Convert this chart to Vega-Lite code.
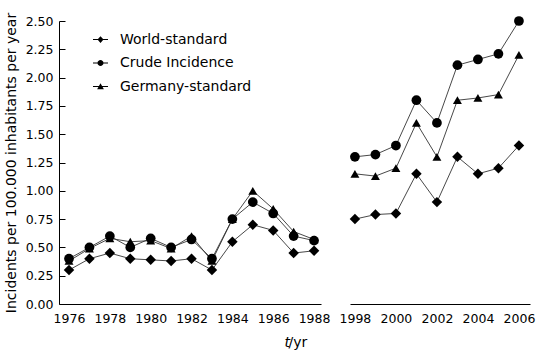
{
  "$schema": "https://vega.github.io/schema/vega-lite/v6.json",
  "padding": {"left": 4, "top": 12, "right": 4, "bottom": 4},
  "bounds": "flush",
  "spacing": 29,
  "config": {
    "view": {"stroke": null},
    "font": "DejaVu Sans",
    "axis": {"domainColor": "black", "domainWidth": 1, "labelColor": "black", "titleColor": "black", "grid": false, "labelFont": "DejaVu Sans", "titleFont": "DejaVu Sans", "titleFontWeight": "normal"}
  },
  "data": {"values": [
    {"year": 1976, "series": "World-standard", "value": 0.30, "period": "early"},
    {"year": 1977, "series": "World-standard", "value": 0.40, "period": "early"},
    {"year": 1978, "series": "World-standard", "value": 0.45, "period": "early"},
    {"year": 1979, "series": "World-standard", "value": 0.40, "period": "early"},
    {"year": 1980, "series": "World-standard", "value": 0.39, "period": "early"},
    {"year": 1981, "series": "World-standard", "value": 0.38, "period": "early"},
    {"year": 1982, "series": "World-standard", "value": 0.40, "period": "early"},
    {"year": 1983, "series": "World-standard", "value": 0.30, "period": "early"},
    {"year": 1984, "series": "World-standard", "value": 0.55, "period": "early"},
    {"year": 1985, "series": "World-standard", "value": 0.70, "period": "early"},
    {"year": 1986, "series": "World-standard", "value": 0.65, "period": "early"},
    {"year": 1987, "series": "World-standard", "value": 0.45, "period": "early"},
    {"year": 1988, "series": "World-standard", "value": 0.47, "period": "early"},
    {"year": 1976, "series": "Crude Incidence", "value": 0.40, "period": "early"},
    {"year": 1977, "series": "Crude Incidence", "value": 0.50, "period": "early"},
    {"year": 1978, "series": "Crude Incidence", "value": 0.60, "period": "early"},
    {"year": 1979, "series": "Crude Incidence", "value": 0.50, "period": "early"},
    {"year": 1980, "series": "Crude Incidence", "value": 0.58, "period": "early"},
    {"year": 1981, "series": "Crude Incidence", "value": 0.50, "period": "early"},
    {"year": 1982, "series": "Crude Incidence", "value": 0.57, "period": "early"},
    {"year": 1983, "series": "Crude Incidence", "value": 0.40, "period": "early"},
    {"year": 1984, "series": "Crude Incidence", "value": 0.75, "period": "early"},
    {"year": 1985, "series": "Crude Incidence", "value": 0.90, "period": "early"},
    {"year": 1986, "series": "Crude Incidence", "value": 0.80, "period": "early"},
    {"year": 1987, "series": "Crude Incidence", "value": 0.60, "period": "early"},
    {"year": 1988, "series": "Crude Incidence", "value": 0.56, "period": "early"},
    {"year": 1976, "series": "Germany-standard", "value": 0.38, "period": "early"},
    {"year": 1977, "series": "Germany-standard", "value": 0.49, "period": "early"},
    {"year": 1978, "series": "Germany-standard", "value": 0.58, "period": "early"},
    {"year": 1979, "series": "Germany-standard", "value": 0.55, "period": "early"},
    {"year": 1980, "series": "Germany-standard", "value": 0.56, "period": "early"},
    {"year": 1981, "series": "Germany-standard", "value": 0.49, "period": "early"},
    {"year": 1982, "series": "Germany-standard", "value": 0.60, "period": "early"},
    {"year": 1983, "series": "Germany-standard", "value": 0.38, "period": "early"},
    {"year": 1984, "series": "Germany-standard", "value": 0.75, "period": "early"},
    {"year": 1985, "series": "Germany-standard", "value": 1.00, "period": "early"},
    {"year": 1986, "series": "Germany-standard", "value": 0.84, "period": "early"},
    {"year": 1987, "series": "Germany-standard", "value": 0.64, "period": "early"},
    {"year": 1988, "series": "Germany-standard", "value": 0.57, "period": "early"},
    {"year": 1998, "series": "World-standard", "value": 0.75, "period": "late"},
    {"year": 1999, "series": "World-standard", "value": 0.79, "period": "late"},
    {"year": 2000, "series": "World-standard", "value": 0.80, "period": "late"},
    {"year": 2001, "series": "World-standard", "value": 1.15, "period": "late"},
    {"year": 2002, "series": "World-standard", "value": 0.90, "period": "late"},
    {"year": 2003, "series": "World-standard", "value": 1.30, "period": "late"},
    {"year": 2004, "series": "World-standard", "value": 1.15, "period": "late"},
    {"year": 2005, "series": "World-standard", "value": 1.20, "period": "late"},
    {"year": 2006, "series": "World-standard", "value": 1.40, "period": "late"},
    {"year": 1998, "series": "Crude Incidence", "value": 1.30, "period": "late"},
    {"year": 1999, "series": "Crude Incidence", "value": 1.32, "period": "late"},
    {"year": 2000, "series": "Crude Incidence", "value": 1.40, "period": "late"},
    {"year": 2001, "series": "Crude Incidence", "value": 1.80, "period": "late"},
    {"year": 2002, "series": "Crude Incidence", "value": 1.60, "period": "late"},
    {"year": 2003, "series": "Crude Incidence", "value": 2.11, "period": "late"},
    {"year": 2004, "series": "Crude Incidence", "value": 2.16, "period": "late"},
    {"year": 2005, "series": "Crude Incidence", "value": 2.21, "period": "late"},
    {"year": 2006, "series": "Crude Incidence", "value": 2.50, "period": "late"},
    {"year": 1998, "series": "Germany-standard", "value": 1.15, "period": "late"},
    {"year": 1999, "series": "Germany-standard", "value": 1.13, "period": "late"},
    {"year": 2000, "series": "Germany-standard", "value": 1.20, "period": "late"},
    {"year": 2001, "series": "Germany-standard", "value": 1.60, "period": "late"},
    {"year": 2002, "series": "Germany-standard", "value": 1.30, "period": "late"},
    {"year": 2003, "series": "Germany-standard", "value": 1.80, "period": "late"},
    {"year": 2004, "series": "Germany-standard", "value": 1.82, "period": "late"},
    {"year": 2005, "series": "Germany-standard", "value": 1.85, "period": "late"},
    {"year": 2006, "series": "Germany-standard", "value": 2.20, "period": "late"}
  ]},
  "resolve": {"legend": {"shape": "independent"}, "scale": {"shape": "independent"}},
  "hconcat": [
    {
      "width": 262,
      "height": 283,
      "transform": [{"filter": "datum.period === 'early'"}],
      "resolve": {"scale": {"shape": "independent"}, "legend": {"shape": "independent"}},
      "encoding": {
        "x": {"field": "year", "type": "quantitative",
          "scale": {"domain": [1975.51, 1988.34], "nice": false, "zero": false},
          "axis": {"values": [1976, 1978, 1980, 1982, 1984, 1986, 1988], "format": "d", "ticks": false, "labelPadding": 8, "labelFontSize": 12.5, "labelFlush": false,
            "title": "t", "titleFontStyle": "italic", "titleFontSize": 14, "titleX": 225, "titleY": 38, "titleAlign": "left", "titleBaseline": "middle"}},
        "y": {"field": "value", "type": "quantitative",
          "scale": {"domain": [0, 2.5], "nice": false},
          "axis": {"values": [0, 0.25, 0.5, 0.75, 1, 1.25, 1.5, 1.75, 2, 2.25, 2.5], "format": ".2f", "tickSize": -6, "tickColor": "black", "tickWidth": 1, "labelPadding": 12, "labelFontSize": 12.5, "labelFlush": false,
            "title": "Incidents per 100.000 inhabitants per year", "titleFontSize": 14, "titlePadding": 7}}
      },
      "layer": [
        {"mark": {"type": "line", "stroke": "#333333", "strokeWidth": 0.9}, "encoding": {"detail": {"field": "series"}}},
        {"mark": {"type": "point", "filled": true, "fill": "black", "opacity": 1},
          "encoding": {
            "shape": {"field": "series", "type": "nominal",
              "scale": {"domain": ["World-standard", "Crude Incidence", "Germany-standard"], "range": ["diamond", "circle", "triangle-up"]},
              "legend": null},
            "size": {"field": "series", "type": "nominal", "scale": {"domain": ["World-standard", "Crude Incidence", "Germany-standard"], "range": [110, 80, 125]}, "legend": null}
          }},
        {"mark": {"type": "point", "filled": true, "fill": "black", "opacity": 0, "size": 225},
          "encoding": {
            "shape": {"field": "series", "type": "nominal",
              "scale": {"domain": ["World-standard", "Crude Incidence", "Germany-standard"],
                "range": ["M-1,-0.06L1,-0.06L1,0.06L-1,0.06ZM0,-0.45L0.4,0L0,0.45L-0.4,0Z", "M-1,-0.06L1,-0.06L1,0.06L-1,0.06ZM-0.4,0A0.4,0.4 0 1,1 0.4,0A0.4,0.4 0 1,1 -0.4,0Z", "M-1,-0.06L1,-0.06L1,0.06L-1,0.06ZM0,-0.45L0.45,0.35L-0.45,0.35Z"]},
              "legend": {"title": null, "orient": "none", "legendX": 33, "legendY": 10, "labelFontSize": 14, "labelColor": "black", "labelOffset": 11, "rowPadding": 7.5, "symbolSize": 225, "padding": 0,
                "symbolOpacity": 1, "symbolFillColor": "black",
                "encode": {"symbols": {"fill": {"value": "black"}, "opacity": {"value": 1}}}}}
          }}
      ]
    },
    {
      "width": 180,
      "height": 283,
      "transform": [{"filter": "datum.period === 'late'"}],
      "encoding": {
        "x": {"field": "year", "type": "quantitative",
          "scale": {"domain": [1997.76, 2006.54], "nice": false, "zero": false},
          "axis": {"values": [1998, 2000, 2002, 2004, 2006], "format": "d", "ticks": false, "labelPadding": 8, "labelFontSize": 12.5, "labelFlush": false,
            "title": "/yr", "titleFontSize": 14, "titleX": -62, "titleY": 38, "titleAlign": "left", "titleBaseline": "middle"}},
        "y": {"field": "value", "type": "quantitative",
          "scale": {"domain": [0, 2.5], "nice": false},
          "axis": null}
      },
      "layer": [
        {"mark": {"type": "line", "stroke": "#333333", "strokeWidth": 0.9}, "encoding": {"detail": {"field": "series"}}},
        {"mark": {"type": "point", "filled": true, "fill": "black", "opacity": 1},
          "encoding": {
            "shape": {"field": "series", "type": "nominal",
              "scale": {"domain": ["World-standard", "Crude Incidence", "Germany-standard"], "range": ["diamond", "circle", "triangle-up"]},
              "legend": null},
            "size": {"field": "series", "type": "nominal", "scale": {"domain": ["World-standard", "Crude Incidence", "Germany-standard"], "range": [110, 80, 125]}, "legend": null}
          }}
      ]
    }
  ]
}
